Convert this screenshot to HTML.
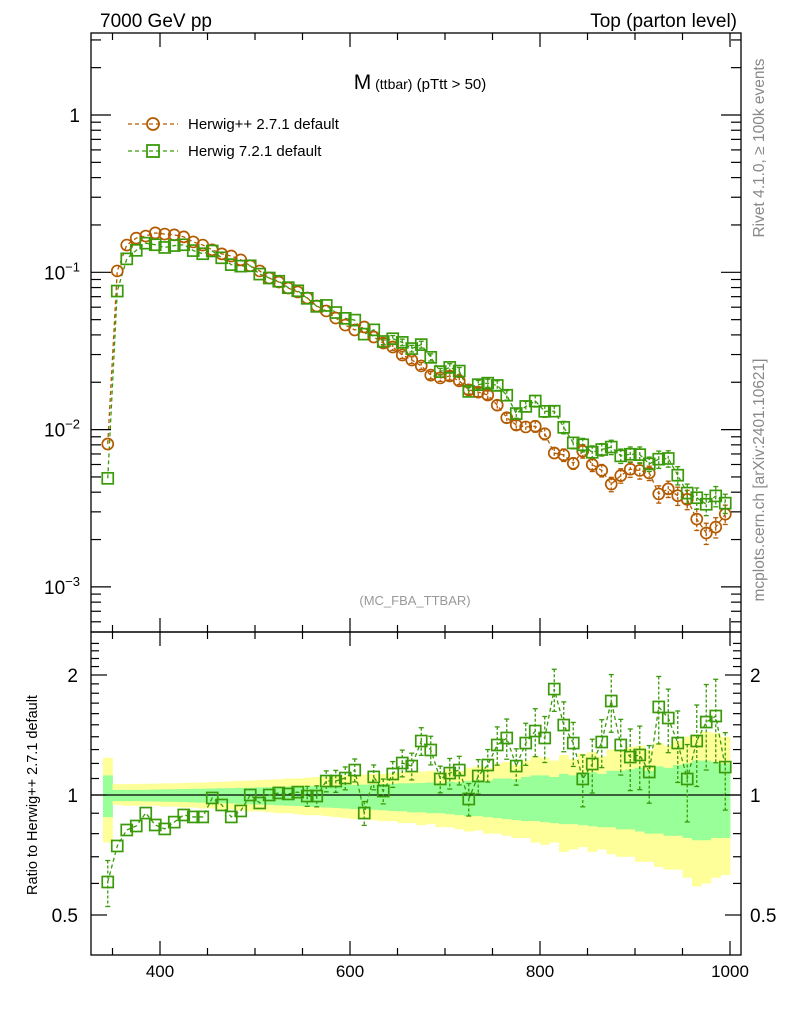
<!DOCTYPE html>
<html><head><meta charset="utf-8"><style>
body{margin:0;background:#fff;}
svg{font-family:"Liberation Sans",sans-serif;}
</style></head><body>
<svg id="c" width="786" height="1024" xmlns="http://www.w3.org/2000/svg">
<text x="100" y="27" font-size="19">7000 GeV pp</text>
<text x="737" y="27" font-size="19" text-anchor="end">Top (parton level)</text>
<text x="420" y="89" font-size="21" text-anchor="middle">M<tspan font-size="14"> (ttbar)</tspan><tspan font-size="15"> (pTtt &gt; 50)</tspan></text>
<text x="415" y="605" font-size="13" fill="#999" text-anchor="middle">(MC_FBA_TTBAR)</text>
<text transform="translate(764,148) rotate(-90)" font-size="15.5" fill="#888" text-anchor="middle">Rivet 4.1.0, ≥ 100k events</text>
<text transform="translate(764,480) rotate(-90)" font-size="15.5" fill="#888" text-anchor="middle">mcplots.cern.ch [arXiv:2401.10621]</text>
<text transform="translate(37,795) rotate(-90)" font-size="14.5" text-anchor="middle">Ratio to Herwig++ 2.7.1 default</text>
<g id="legend">
<g>
<line x1="128" y1="124" x2="178" y2="124" stroke="#b35a00" stroke-dasharray="4,3" stroke-width="1.3"/>
<circle cx="153" cy="124" r="6" fill="none" stroke="#b35a00" stroke-width="1.8"/>
<text x="188" y="129" font-size="15">Herwig++ 2.7.1 default</text></g>
<g>
<line x1="128" y1="151" x2="178" y2="151" stroke="#3a9a0a" stroke-dasharray="4,3" stroke-width="1.3"/>
<rect x="147" y="145" width="12" height="12" fill="none" stroke="#3a9a0a" stroke-width="1.8"/>
<text x="188" y="156" font-size="15">Herwig 7.2.1 default</text></g>
</g>
<g id="bands"></g>
<g id="marks"></g>
<g id="axes"></g>
</svg>
<script>
const binLo = 340, binW = 10;
const herwigpp = [0.0081,0.102,0.149,0.165,0.170,0.178,0.175,0.173,0.168,0.156,
0.149,0.139,0.131,0.127,0.120,0.110,0.102,0.092,0.0867,0.0794,
0.0750,0.0687,0.0611,0.0568,0.0512,0.0462,0.0430,0.0449,0.0388,0.0355,
0.0335,0.0298,0.0277,0.0254,0.0222,0.0213,0.0219,0.0204,0.0179,0.0173,
0.0166,0.0143,0.0119,0.0107,0.0104,0.0105,0.0094,0.0071,0.0069,0.0061,
0.0073,0.0060,0.0055,0.0045,0.0051,0.0056,0.0055,0.0053,0.0039,0.0042,
0.0038,0.0036,0.0027,0.0022,0.0024,0.0029];
const ratioH7 = [0.605,0.745,0.817,0.836,0.901,0.841,0.822,0.855,0.891,0.881,
0.881,0.983,0.944,0.881,0.912,1.0,0.955,1.0,1.012,1.006,
1.017,0.994,0.994,1.084,1.084,1.103,1.155,0.901,1.110,1.023,
1.129,1.203,1.182,1.366,1.297,1.097,1.135,1.155,0.977,1.116,
1.189,1.335,1.390,1.182,1.350,1.447,1.390,1.844,1.498,1.350,
1.097,1.196,1.358,1.721,1.335,1.245,1.260,1.142,1.663,1.560,
1.350,1.097,1.366,1.524,1.578,1.175];
const yelHi = [1.24,1.065,1.065,1.066,1.067,1.068,1.07,1.07,1.072,1.074,
1.075,1.077,1.08,1.082,1.085,1.088,1.09,1.093,1.095,1.1,
1.1,1.105,1.11,1.11,1.115,1.12,1.12,1.125,1.13,1.13,
1.135,1.14,1.14,1.145,1.15,1.14,1.16,1.15,1.17,1.18,
1.17,1.2,1.21,1.19,1.22,1.25,1.24,1.22,1.26,1.23,
1.27,1.28,1.25,1.3,1.29,1.32,1.33,1.3,1.35,1.33,
1.37,1.4,1.42,1.44,1.43,1.4];
const yelLo = [0.76,0.945,0.94,0.94,0.94,0.94,0.935,0.935,0.93,0.93,
0.925,0.925,0.92,0.92,0.915,0.91,0.91,0.905,0.9,0.9,
0.895,0.89,0.89,0.885,0.88,0.875,0.87,0.87,0.865,0.86,
0.86,0.85,0.85,0.84,0.845,0.83,0.83,0.82,0.81,0.815,
0.8,0.8,0.79,0.78,0.78,0.76,0.75,0.76,0.72,0.73,
0.74,0.72,0.73,0.71,0.7,0.7,0.68,0.68,0.66,0.65,
0.65,0.62,0.59,0.6,0.62,0.63];
const grnHi = [1.12,1.03,1.03,1.03,1.03,1.032,1.033,1.034,1.035,1.036,
1.037,1.038,1.04,1.04,1.042,1.043,1.045,1.046,1.048,1.05,
1.05,1.052,1.054,1.055,1.057,1.06,1.06,1.062,1.064,1.065,
1.067,1.07,1.07,1.072,1.075,1.07,1.08,1.075,1.085,1.09,
1.085,1.1,1.1,1.095,1.11,1.12,1.12,1.11,1.13,1.12,
1.14,1.14,1.13,1.15,1.15,1.16,1.17,1.15,1.18,1.17,
1.19,1.2,1.22,1.22,1.21,1.2];
const grnLo = [0.88,0.965,0.965,0.965,0.964,0.963,0.962,0.961,0.96,0.958,
0.957,0.955,0.954,0.952,0.95,0.948,0.946,0.944,0.942,0.94,
0.938,0.935,0.933,0.93,0.928,0.925,0.922,0.92,0.918,0.915,
0.912,0.91,0.905,0.905,0.9,0.9,0.895,0.89,0.885,0.885,
0.88,0.875,0.87,0.865,0.86,0.86,0.855,0.85,0.845,0.845,
0.84,0.835,0.83,0.83,0.82,0.82,0.81,0.8,0.8,0.79,
0.79,0.78,0.77,0.77,0.78,0.78];
const xTicks = [400,600,800,1000];
const mainTicks = [1,0.1,0.01,0.001];
const mainTickLabels = ["1","10","10","10"];
const mainTickExp = ["","−1","−2","−3"];
const ratioTicks = [2,1,0.5];
const ratioTickLabels = ["2","1","0.5"];

const NS="http://www.w3.org/2000/svg";
const L=91,R=741,MT=33,MB=632,RT=632,RB=955;
const xs=v=>160+(v-400)*0.95;
const ym=v=>115-157.3*Math.log10(v);
const yr=r=>795-120*Math.log2(r);
function mk(tag,attrs,parent){const e=document.createElementNS(NS,tag);for(const k in attrs)e.setAttribute(k,attrs[k]);parent.appendChild(e);return e;}
const bands=document.getElementById('bands'),marks=document.getElementById('marks'),axes=document.getElementById('axes');
const cen=i=>binLo+binW*(i+0.5);

for(let i=0;i<herwigpp.length;i++){
  const x0=xs(binLo+binW*i),x1=xs(binLo+binW*(i+1));
  let r=mk('rect',{x:x0,y:yr(yelHi[i]),width:x1-x0+0.4,height:yr(yelLo[i])-yr(yelHi[i]),fill:'#ffff99'},bands);
  
  
  let g=mk('rect',{x:x0,y:yr(grnHi[i]),width:x1-x0+0.4,height:yr(grnLo[i])-yr(grnHi[i]),fill:'#99ff99'},bands);
  
  
}
let ref=mk('line',{x1:L,x2:R,y1:yr(1),y2:yr(1),stroke:'#000','stroke-width':1.3},bands);



const OR='#b35a00',GR='#3a9a0a';
const h7=herwigpp.map((v,i)=>v*ratioH7[i]);
function polyline(pts,col,name){const p=mk('polyline',{points:pts.join(' '),fill:'none',stroke:col,'stroke-width':1.3,'stroke-dasharray':'4,3'},marks);

}
polyline(herwigpp.map((v,i)=>xs(cen(i))+','+ym(v)),OR,'herwigpp-line');
polyline(h7.map((v,i)=>xs(cen(i))+','+ym(v)),GR,'herwig7-line');
polyline(ratioH7.map((v,i)=>xs(cen(i))+','+yr(v)),GR,'herwig7-ratio-line');
function ebar(x,y1,y2,col){mk('line',{x1:x,x2:x,y1:y1,y2:y2,stroke:col,'stroke-width':1.3,'stroke-dasharray':'3,2'},marks);
mk('line',{x1:x-2.5,x2:x+2.5,y1:y1,y2:y1,stroke:col,'stroke-width':1.3},marks);
mk('line',{x1:x-2.5,x2:x+2.5,y1:y2,y2:y2,stroke:col,'stroke-width':1.3},marks);}
for(let i=0;i<herwigpp.length;i++){
  const x=xs(cen(i));
  const e=(grnHi[i]-1)*0.7;
  if(i>28){ebar(x,ym(herwigpp[i]*(1+e)),ym(herwigpp[i]*(1-e)),OR);ebar(x,ym(h7[i]*(1+e)),ym(h7[i]*(1-e)),GR);}
  const re=(yelHi[i]-1)*0.55;
  if(i>20||i==0)ebar(x,yr(ratioH7[i]*(1+re)),yr(ratioH7[i]*(1-re)),GR);
  let c=mk('circle',{cx:x,cy:ym(herwigpp[i]),r:5.5,fill:'none',stroke:OR,'stroke-width':1.7},marks);
  
  
  let s=mk('rect',{x:x-5.5,y:ym(h7[i])-5.5,width:11,height:11,fill:'none',stroke:GR,'stroke-width':1.7},marks);
  
  
  let s2=mk('rect',{x:x-5.5,y:yr(ratioH7[i])-5.5,width:11,height:11,fill:'none',stroke:GR,'stroke-width':1.7},marks);
  
  
}
let f1=mk('rect',{x:L,y:MT,width:R-L,height:MB-MT,fill:'none',stroke:'#000','stroke-width':1.3},axes);


let f2=mk('rect',{x:L,y:RT,width:R-L,height:RB-RT,fill:'none',stroke:'#000','stroke-width':1.3},axes);


function tk(x1,y1,x2,y2){mk('line',{x1,y1,x2,y2,stroke:'#000','stroke-width':1.2},axes);}
for(let v=350;v<=1000;v+=50){const x=xs(v);const big=v%200==0;const len=big?14:7;
 tk(x,MB,x,MB-len);tk(x,MT,x,MT+len);tk(x,RB,x,RB-len);tk(x,RT,x,RT+len);}
xTicks.forEach(v=>{let t=mk('text',{x:xs(v),y:977,'font-size':17,'text-anchor':'middle'},axes);t.textContent=v;

});
for(let d=-4;d<=0;d++)for(let m=1;m<10;m++){const v=m*Math.pow(10,d);const y=ym(v);if(y<MT||y>MB)continue;const len=m==1?20:10;tk(L,y,L+len,y);tk(R,y,R-len,y);}
mainTicks.forEach((v,i)=>{let t=mk('text',{x:80,y:ym(v)+7,'font-size':19,'text-anchor':'end'},axes);t.textContent=mainTickLabels[i];
if(mainTickExp[i]){let s=mk('tspan',{'font-size':13,dy:-8},t);s.textContent=mainTickExp[i];}

});
[0.5,0.6,0.7,0.8,0.9,1,1.1,1.2,1.3,1.4,1.5,1.6,1.7,1.8,1.9,2,2.1,2.2,2.3,2.4].forEach(v=>{const y=yr(v);if(y<RT||y>RB)return;const big=(v==0.5||v==1||v==2);const len=big?16:8;tk(L,y,L+len,y);tk(R,y,R-len,y);});
ratioTicks.forEach((v,i)=>{let t=mk('text',{x:78,y:yr(v)+7,'font-size':19,'text-anchor':'end'},axes);t.textContent=ratioTickLabels[i];


let t2=mk('text',{x:750,y:yr(v)+7,'font-size':19},axes);t2.textContent=ratioTickLabels[i];

});
</script>
</body></html>
